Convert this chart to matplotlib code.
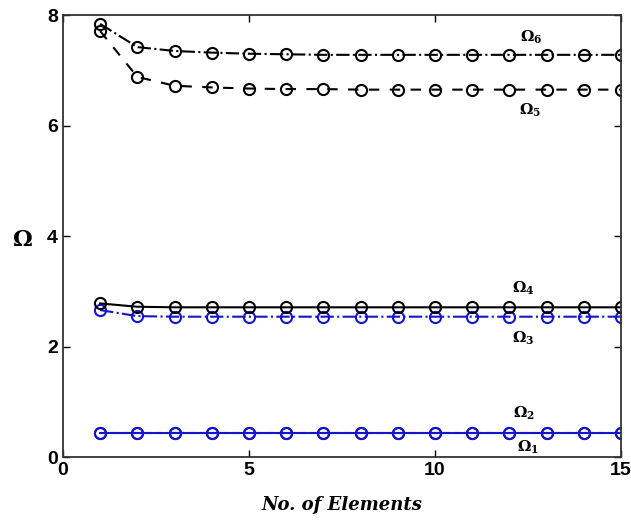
import matplotlib
matplotlib.use("Agg")
import matplotlib.pyplot as plt

elements = list(range(1, 16))
omega6 = [7.84, 7.42, 7.35, 7.32, 7.30, 7.29, 7.28, 7.28, 7.28, 7.28, 7.28, 7.28, 7.28, 7.28, 7.28]
omega5 = [7.71, 6.88, 6.72, 6.69, 6.67, 6.66, 6.66, 6.65, 6.65, 6.65, 6.65, 6.65, 6.65, 6.65, 6.65]
omega4 = [2.78, 2.72, 2.71, 2.71, 2.71, 2.71, 2.71, 2.71, 2.71, 2.71, 2.71, 2.71, 2.71, 2.71, 2.71]
omega3 = [2.66, 2.55, 2.54, 2.54, 2.54, 2.54, 2.54, 2.54, 2.54, 2.54, 2.54, 2.54, 2.54, 2.54, 2.54]
omega2 = [0.44, 0.44, 0.44, 0.44, 0.44, 0.44, 0.44, 0.44, 0.44, 0.44, 0.44, 0.44, 0.44, 0.44, 0.44]
omega1 = [0.43, 0.43, 0.43, 0.43, 0.43, 0.43, 0.43, 0.43, 0.43, 0.43, 0.43, 0.43, 0.43, 0.43, 0.43]
xticks = [0, 5, 10, 15]
yticks = [0, 2, 4, 6, 8]

plt.rcParams['mathtext.fontset'] = 'dejavuserif'

fig = plt.figure(figsize=(6.31, 5.21), dpi=100)
ax = fig.add_axes([0.0998, 0.1228, 0.8842, 0.8483])

blue = '#1414c8'
mk = dict(marker='o', markerfacecolor='none', markersize=8, markeredgewidth=1.5, linewidth=1.5)
ax.plot(elements, omega1, color=blue, linestyle='-', **mk)
ax.plot(elements, omega2, color=blue, linestyle='--', **mk)
ax.plot(elements, omega3, color=blue, linestyle='-.', **mk)
ax.plot(elements, omega4, color='black', linestyle='-', **mk)
ax.plot(elements, omega5, color='black', linestyle=(0, (5, 5)), **mk)
ax.plot(elements, omega6, color='black', linestyle='-.', **mk)

ax.set_xlim(0, 15)
ax.set_ylim(0, 8)
ax.set_xticks(xticks)
ax.set_yticks(yticks)
ax.tick_params(direction='in', length=5, width=1, top=True, right=True,
               labelsize=14)
for lbl in ax.get_xticklabels() + ax.get_yticklabels():
    lbl.set_fontweight('bold')
    lbl.set_family('Liberation Sans')
for s in ax.spines.values():
    s.set_linewidth(1.3)
    s.set_color('#333333')

labels = [(12.6, 7.6, r'$\mathbf{\Omega_6}$'),
          (12.55, 6.28, r'$\mathbf{\Omega_5}$'),
          (12.37, 3.06, r'$\mathbf{\Omega_4}$'),
          (12.37, 2.15, r'$\mathbf{\Omega_3}$'),
          (12.4, 0.80, r'$\mathbf{\Omega_2}$'),
          (12.5, 0.18, r'$\mathbf{\Omega_1}$')]
for x, y, t in labels:
    ax.text(x, y, t, fontsize=11, ha='center', va='center')

ax.set_xlabel('No. of Elements', fontsize=13, fontweight='bold', fontstyle='italic',
              family='DejaVu Serif', labelpad=12)
fig.text(22/631, 1 - 240/521, r'$\mathbf{\Omega}$', fontsize=16, ha='center', va='center')

fig.savefig('out.png', dpi=100)
